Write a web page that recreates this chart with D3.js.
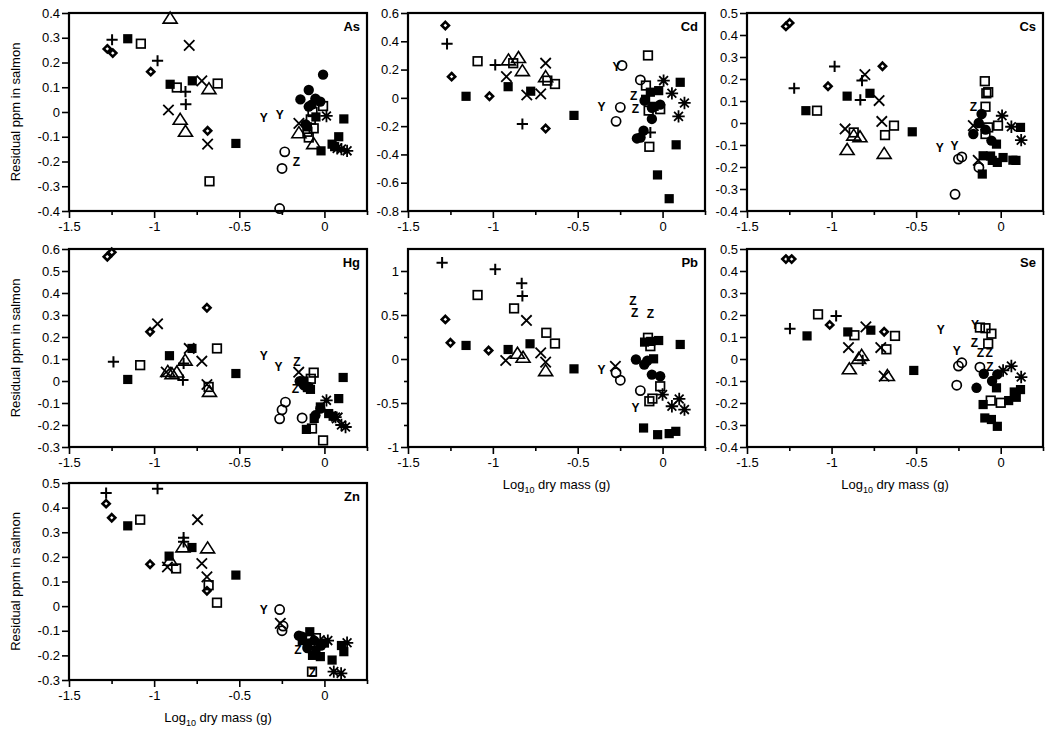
<!DOCTYPE html>
<html>
<head>
<meta charset="utf-8">
<script src="https://cdn.jsdelivr.net/npm/d3@7"></script>
<style>
html,body{margin:0;padding:0;background:#fff;}
svg{display:block;font-family:"Liberation Sans",Arial,Helvetica,sans-serif;}
</style>
</head>
<body>
<svg id="chart" width="1050" height="731"></svg>
<script>
// ---- data: [symbol, log10 dry mass, residual ppm] ----
// symbols: fs filled square, os open square, oc open circle, fc filled circle,
// di diamond, pl plus, x cross, tr triangle, as asterisk, Y, Z letters
const elements = ["As","Cd","Cs","Hg","Pb","Se","Zn"];
const xTicks = [-1.5,-1,-0.5,0];
const xMinorTicks = [-1.25,-0.75,-0.25,0.25];
const yDomains = [[-0.4,0.4],[-0.8,0.6],[-0.4,0.5],[-0.3,0.6],[-1,1.25],[-0.4,0.5],[-0.3,0.5]];
const yTicksAs = [-0.4,-0.3,-0.2,-0.1,0,0.1,0.2,0.3,0.4];
const yTicksCd = [-0.8,-0.6,-0.4,-0.2,0,0.2,0.4,0.6];
const yTicksCs = [-0.4,-0.3,-0.2,-0.1,0,0.1,0.2,0.3,0.4,0.5];
const yTicksHg = [-0.3,-0.2,-0.1,0,0.1,0.2,0.3,0.4,0.5,0.6];
const yTicksPb = [-1,-0.5,0,0.5,1];
const yMinorPb = [-0.75,-0.25,0.25,0.75];
const yTicksSe = [-0.4,-0.3,-0.2,-0.1,0,0.1,0.2,0.3,0.4,0.5];
const yTicksZn = [-0.3,-0.2,-0.1,0,0.1,0.2,0.3,0.4,0.5];

const dataAs = [
["di",-1.275,0.255],["di",-1.243,0.238],["di",-1.02,0.163],["di",-0.686,-0.076],
["pl",-1.247,0.292],["pl",-0.98,0.207],["pl",-0.816,0.082],["pl",-0.814,0.031],
["fs",-1.155,0.296],["fs",-0.906,0.112],["fs",-0.776,0.126],["fs",-0.52,-0.127],["fs",0.114,-0.028],["fs",0.084,-0.1],["fs",0.045,-0.13],["fs",-0.02,-0.157],["fs",-0.1,-0.06],["fs",-0.05,-0.02],["fs",0.06,-0.14],
["os",-1.078,0.276],["os",-0.867,0.099],["os",-0.627,0.115],["os",-0.675,-0.28],["os",-0.008,0.024],["os",-0.063,-0.066],["os",-0.092,-0.103],["os",-0.08,-0.03],["os",-0.07,0.0],["os",-0.1,-0.08],
["tr",-0.906,0.377],["tr",-0.678,0.092],["tr",-0.847,-0.032],["tr",-0.816,-0.08],["tr",-0.15,-0.086],["tr",-0.063,-0.13],
["x",-0.794,0.269],["x",-0.72,0.126],["x",-0.916,0.008],["x",-0.686,-0.13],["x",-0.15,-0.046],
["Y",-0.357,-0.022],["Y",-0.263,-0.012],
["oc",-0.233,-0.161],["oc",-0.249,-0.228],["oc",-0.263,-0.39],
["Z",-0.165,-0.201],
["fc",-0.008,0.151],["fc",-0.092,0.089],["fc",-0.141,0.051],["fc",-0.053,0.054],["fc",-0.092,0.022],["fc",-0.024,0.042],["fc",-0.11,-0.05],["fc",-0.075,0.03],
["as",0.012,-0.016],["as",0.133,-0.157],["as",0.075,-0.147],["as",0.1,-0.15]
];
const dataCd = [
["di",-1.28,0.512],["di",-1.243,0.15],["di",-1.02,0.011],["di",-0.689,-0.217],
["pl",-1.27,0.382],["pl",-0.986,0.233],["pl",-0.826,-0.185],["pl",-0.072,-0.245],
["fs",-1.158,0.011],["fs",-0.91,0.079],["fs",-0.777,0.047],["fs",-0.522,-0.124],["fs",-0.072,0.04],["fs",-0.023,0.051],["fs",0.104,0.11],["fs",0.08,-0.332],["fs",-0.03,-0.545],["fs",0.039,-0.713],["fs",-0.1,-0.01],["fs",-0.05,-0.06],
["os",-1.09,0.259],["os",-0.88,0.245],["os",-0.679,0.122],["os",-0.634,0.098],["os",-0.086,0.3],["os",-0.098,0.087],["os",-0.082,-0.09],["os",-0.078,-0.346],["os",-0.014,-0.08],
["tr",-0.908,0.264],["tr",-0.849,0.281],["tr",-0.826,0.188],["tr",-0.689,0.146],
["x",-0.689,0.245],["x",-0.92,0.15],["x",-0.8,0.02],["x",-0.718,0.028],
["Y",-0.36,-0.06],["Y",-0.272,0.217],
["oc",-0.239,0.229],["oc",-0.249,-0.067],["oc",-0.274,-0.166],["oc",-0.131,0.127],
["Z",-0.17,0.012],["Z",-0.16,-0.078],
["fc",-0.151,-0.287],["fc",-0.112,-0.232],["fc",-0.063,-0.149],["fc",-0.014,-0.048],["fc",-0.106,-0.02],["fc",-0.063,-0.07],["fc",-0.13,-0.28],
["as",0.006,0.122],["as",0.055,0.032],["as",0.129,-0.036],["as",0.094,-0.131]
];
const dataCs = [
["di",-1.27,0.439],["di",-1.248,0.455],["di",-1.021,0.167],["di",-0.699,0.258],
["pl",-1.221,0.158],["pl",-0.982,0.257],["pl",-0.82,0.193],["pl",-0.83,0.105],
["fs",-1.152,0.056],["fs",-0.908,0.122],["fs",-0.773,0.135],["fs",-0.523,-0.04],["fs",-0.104,-0.149],["fs",-0.02,-0.179],["fs",0.072,-0.169],["fs",-0.109,-0.232],["fs",-0.025,-0.096],["fs",0.117,-0.02],["fs",0.014,-0.157],["fs",-0.06,-0.15],["fs",0.09,-0.17],["fs",-0.05,-0.17],
["os",-1.086,0.056],["os",-0.869,-0.043],["os",-0.684,-0.055],["os",-0.631,-0.012],["os",-0.094,0.19],["os",-0.074,0.14],["os",-0.09,0.074],["os",-0.074,-0.02],["os",-0.016,-0.012],["os",-0.085,0.135],["os",-0.09,-0.05],
["tr",-0.908,-0.123],["tr",-0.832,-0.065],["tr",-0.689,-0.141],["tr",-0.869,-0.058],
["x",-0.803,0.22],["x",-0.719,0.102],["x",-0.92,-0.027],["x",-0.703,0.007],["x",-0.162,-0.012],["x",-0.133,-0.17],
["Y",-0.361,-0.111],["Y",-0.273,-0.103],
["oc",-0.25,-0.164],["oc",-0.23,-0.154],["oc",-0.27,-0.324],["oc",-0.129,-0.202],
["Z",-0.162,0.074],
["fc",-0.113,0.041],["fc",-0.162,-0.05],["fc",-0.055,-0.08],["fc",-0.09,-0.03],["fc",-0.13,0.0],
["as",0.008,0.033],["as",0.063,-0.017],["as",0.121,-0.078]
];
const dataHg = [
["di",-1.275,0.565],["di",-1.249,0.585],["di",-1.024,0.224],["di",-0.69,0.333],
["pl",-1.239,0.087],["pl",-0.827,0.08],["pl",-0.831,0.004],
["fs",-1.155,0.007],["fs",-0.91,0.115],["fs",-0.778,0.148],["fs",-0.52,0.034],["fs",0.11,0.016],["fs",0.084,-0.08],["fs",-0.106,-0.22],["fs",-0.082,-0.038],["fs",-0.024,-0.118],["fs",0.025,-0.148],["fs",0.051,-0.16],["fs",-0.12,0.0],["fs",-0.06,-0.17],["fs",-0.1,-0.03],
["os",-1.082,0.072],["os",-0.631,0.148],["os",-0.68,-0.027],["os",-0.063,0.038],["os",-0.008,-0.27],["os",-0.073,-0.216],["os",-0.08,0.01],
["tr",-0.92,0.041],["tr",-0.867,0.038],["tr",-0.818,0.092],["tr",-0.675,-0.05],["tr",-0.895,0.03],
["x",-0.794,0.148],["x",-0.72,0.09],["x",-0.929,0.041],["x",-0.69,-0.016],["x",-0.151,0.04],["x",0.075,-0.168],["x",-0.98,0.26],
["Y",-0.357,0.117],["Y",-0.269,0.064],
["Z",-0.161,0.087],["Z",-0.171,-0.034],
["oc",-0.229,-0.096],["oc",-0.249,-0.131],["oc",-0.263,-0.172],["oc",-0.131,-0.168],
["fc",-0.145,-0.001],["fc",-0.092,-0.027],["fc",-0.053,-0.156],["fc",-0.024,-0.125],["fc",-0.12,-0.02],
["as",0.012,-0.088],["as",0.124,-0.209],["as",0.065,-0.164],["as",0.1,-0.2]
];
const dataPb = [
["pl",-1.299,1.095],["pl",-0.986,1.019],["pl",-0.83,0.86],["pl",-0.826,0.716],
["di",-1.28,0.45],["di",-1.25,0.184],["di",-1.025,0.097],
["os",-1.09,0.727],["os",-0.875,0.575],["os",-0.685,0.298],["os",-0.634,0.176],["os",-0.086,0.241],["os",-0.072,0.146],["os",-0.078,-0.48],["os",-0.014,-0.31],["os",-0.06,-0.45],
["fs",-1.158,0.154],["fs",-0.91,0.108],["fs",-0.781,0.173],["fs",-0.522,-0.112],["fs",-0.106,0.192],["fs",-0.023,0.21],["fs",0.104,0.165],["fs",-0.053,0.002],["fs",-0.112,-0.784],["fs",-0.029,-0.86],["fs",0.039,-0.848],["fs",0.078,-0.822],["fs",-0.07,0.2],
["tr",-0.855,0.059],["tr",-0.822,0.013],["tr",-0.689,-0.139],
["x",-0.802,0.438],["x",-0.924,-0.017],["x",-0.718,0.07],["x",-0.689,-0.036],["x",-0.278,-0.082],
["Y",-0.36,-0.12],["Y",-0.16,-0.556],
["oc",-0.274,-0.157],["oc",-0.249,-0.241],["oc",-0.131,-0.359],
["Z",-0.174,0.665],["Z",-0.164,0.525],["Z",-0.072,0.514],
["fc",-0.157,-0.006],["fc",-0.108,-0.063],["fc",-0.063,-0.177],["fc",-0.014,-0.196],["fc",-0.09,-0.02],
["as",0.0,-0.404],["as",0.055,-0.537],["as",0.098,-0.454],["as",0.129,-0.575]
];
const dataSe = [
["di",-1.27,0.454],["di",-1.236,0.454],["di",-1.011,0.155],["di",-0.689,0.124],
["pl",-1.246,0.138],["pl",-0.973,0.196],["pl",-0.816,-0.006],
["fs",-1.145,0.105],["fs",-0.904,0.123],["fs",-0.768,0.131],["fs",-0.514,-0.052],["fs",-0.104,-0.207],["fs",-0.094,-0.268],["fs",-0.02,-0.306],["fs",0.047,-0.189],["fs",0.092,-0.174],["fs",0.117,-0.139],["fs",-0.025,-0.131],["fs",-0.055,-0.275],["fs",0.08,-0.15],
["os",-1.08,0.203],["os",-0.865,0.108],["os",-0.625,0.105],["os",-0.676,0.044],["os",-0.123,0.143],["os",-0.055,0.115],["os",-0.074,0.07],["os",0.0,-0.199],["os",-0.059,-0.189],["os",-0.09,0.14],
["tr",-0.895,-0.047],["tr",-0.822,0.014],["tr",-0.67,-0.078],["tr",-0.84,0.0],
["x",-0.797,0.146],["x",-0.9,0.052],["x",-0.709,0.052],["x",-0.689,-0.078],
["Y",-0.355,0.135],["Y",-0.152,0.155],["Y",-0.26,0.036],
["Z",-0.156,0.074],["Z",-0.068,0.029],["Z",-0.064,-0.037],["Z",-0.12,0.03],
["oc",-0.23,-0.017],["oc",-0.25,-0.032],["oc",-0.26,-0.119],["oc",-0.123,-0.037],
["fc",-0.1,-0.067],["fc",-0.143,-0.131],["fc",-0.051,-0.1],["fc",-0.02,-0.07],
["as",0.063,-0.032],["as",0.121,-0.082],["as",0.014,-0.052]
];
const dataZn = [
["pl",-1.282,0.459],["pl",-0.98,0.477],["pl",-0.827,0.278],["pl",-0.827,0.261],
["di",-1.282,0.416],["di",-1.249,0.359],["di",-1.024,0.17],["di",-0.69,0.062],
["fs",-1.155,0.326],["fs",-0.912,0.203],["fs",-0.778,0.238],["fs",-0.52,0.126],["fs",-0.086,-0.104],["fs",0.114,-0.185],["fs",0.045,-0.219],["fs",-0.024,-0.205],["fs",-0.1,-0.15],["fs",-0.05,-0.18],["fs",0.0,-0.15],["fs",-0.13,-0.14],["fs",0.1,-0.16],["fs",-0.07,-0.2],
["os",-1.082,0.351],["os",-0.871,0.153],["os",-0.68,0.085],["os",-0.631,0.014],["os",-0.073,-0.266],["os",-0.05,-0.13],
["tr",-0.831,0.238],["tr",-0.686,0.234],["tr",-0.906,0.184],
["x",-0.745,0.351],["x",-0.922,0.159],["x",-0.72,0.173],["x",-0.69,0.119],["x",-0.259,-0.07],["x",-0.03,-0.14],
["Y",-0.357,-0.014],
["oc",-0.263,-0.014],["oc",-0.243,-0.081],["oc",-0.249,-0.1],
["Z",-0.155,-0.178],["Z",-0.07,-0.27],
["fc",-0.131,-0.124],["fc",-0.06,-0.14],["fc",-0.1,-0.17],["fc",-0.02,-0.16],["fc",-0.15,-0.12],
["as",0.133,-0.149],["as",0.098,-0.273],["as",0.055,-0.266],["as",0.02,-0.14]
];

const panelData = [dataAs,dataCd,dataCs,dataHg,dataPb,dataSe,dataZn];
const panelYTicks = [yTicksAs,yTicksCd,yTicksCs,yTicksHg,yTicksPb,yTicksSe,yTicksZn];

// ---- layout ----
const cols = [[69,367],[408,705],[747,1043]];
const rows = [[13,211],[249,447],[483,680]];
const panelPos = [[0,0],[1,0],[2,0],[0,1],[1,1],[2,1],[0,2]];
const showXLabel = [false,false,false,false,true,true,true];

const svg = d3.select("#chart");
const fmt = v => String(Math.round(v*100)/100);

function drawSymbol(g, s, cx, cy){
  const k = "#000";
  if (s==="fs"){
    g.append("rect").attr("x",cx-4.6).attr("y",cy-4.6).attr("width",9.2).attr("height",9.2).attr("fill",k);
  } else if (s==="os"){
    g.append("rect").attr("x",cx-4.3).attr("y",cy-4.3).attr("width",8.6).attr("height",8.6).attr("fill","none").attr("stroke",k).attr("stroke-width",1.7);
  } else if (s==="oc"){
    g.append("circle").attr("cx",cx).attr("cy",cy).attr("r",4.6).attr("fill","none").attr("stroke",k).attr("stroke-width",1.7);
  } else if (s==="fc"){
    g.append("circle").attr("cx",cx).attr("cy",cy).attr("r",5.2).attr("fill",k);
  } else if (s==="di"){
    const r=3.6;
    g.append("path").attr("d",`M${cx},${cy-r}L${cx+r},${cy}L${cx},${cy+r}L${cx-r},${cy}Z`).attr("fill","#fff").attr("stroke",k).attr("stroke-width",2.6).attr("stroke-linejoin","miter");
  } else if (s==="pl"){
    const r=5.6;
    g.append("path").attr("d",`M${cx-r},${cy}H${cx+r}M${cx},${cy-r}V${cy+r}`).attr("stroke",k).attr("stroke-width",2);
  } else if (s==="x"){
    const r=5.2;
    g.append("path").attr("d",`M${cx-r},${cy-r}L${cx+r},${cy+r}M${cx-r},${cy+r}L${cx+r},${cy-r}`).attr("stroke",k).attr("stroke-width",1.8);
  } else if (s==="tr"){
    const w=7, h=11;
    g.append("path").attr("d",`M${cx},${cy-h*0.6}L${cx+w},${cy+h*0.4}L${cx-w},${cy+h*0.4}Z`).attr("fill","none").attr("stroke",k).attr("stroke-width",1.6).attr("stroke-linejoin","miter");
  } else if (s==="as"){
    const r=6.2, d=4.4;
    g.append("path").attr("d",`M${cx-r},${cy}H${cx+r}M${cx},${cy-r}V${cy+r}M${cx-d},${cy-d}L${cx+d},${cy+d}M${cx-d},${cy+d}L${cx+d},${cy-d}`).attr("stroke",k).attr("stroke-width",1.8);
  } else {
    g.append("text").attr("x",cx).attr("y",cy+4.3).attr("text-anchor","middle").attr("font-size",12).attr("font-weight","bold").attr("fill",k).text(s);
  }
}

elements.forEach((el,i)=>{
  const [ci,ri] = panelPos[i];
  const [x0,x1] = cols[ci];
  const [y0,y1] = rows[ri];
  const x = d3.scaleLinear().domain([-1.5,0.25]).range([x0,x1]);
  const y = d3.scaleLinear().domain(yDomains[i]).range([y1,y0]);
  const g = svg.append("g");

  // x axis
  g.append("g").attr("transform",`translate(0,${y1})`)
    .call(d3.axisBottom(x).tickValues(xTicks).tickFormat(fmt).tickSize(7).tickSizeOuter(0).tickPadding(4));
  g.append("g").attr("transform",`translate(0,${y1})`)
    .call(d3.axisBottom(x).tickValues(xMinorTicks).tickFormat("").tickSize(4).tickSizeOuter(0));
  // y axis
  g.append("g").attr("transform",`translate(${x0},0)`)
    .call(d3.axisLeft(y).tickValues(panelYTicks[i]).tickFormat(fmt).tickSize(7).tickSizeOuter(0).tickPadding(2));
  if (el==="Pb"){
    g.append("g").attr("transform",`translate(${x0},0)`)
      .call(d3.axisLeft(y).tickValues(yMinorPb).tickFormat("").tickSize(4).tickSizeOuter(0));
  }
  g.selectAll(".domain").remove();
  g.selectAll(".tick line").attr("stroke","#000").attr("stroke-width",1.6);
  g.selectAll(".tick text").attr("font-size",13).attr("fill","#000").attr("font-family","'Liberation Sans',Arial,sans-serif");

  // frame
  g.append("rect").attr("x",x0).attr("y",y0).attr("width",x1-x0).attr("height",y1-y0)
    .attr("fill","none").attr("stroke","#000").attr("stroke-width",2.2);

  // element label
  g.append("text").attr("x",x1-7).attr("y",y0+18).attr("text-anchor","end")
    .attr("font-size",13).attr("font-weight","bold").text(el);

  // points
  const pg = g.append("g");
  panelData[i].forEach(d=>drawSymbol(pg,d[0],x(d[1]),y(d[2])));

  // y title
  if (ci===0){
    g.append("text").attr("transform",`translate(20,${(y0+y1)/2}) rotate(-90)`)
      .attr("text-anchor","middle").attr("font-size",13).text("Residual ppm in salmon");
  }
  if (showXLabel[i]){
    const t = g.append("text").attr("x",(x0+x1)/2).attr("y",y1+42).attr("text-anchor","middle").attr("font-size",13);
    t.append("tspan").text("Log");
    t.append("tspan").attr("font-size",9).attr("dy",4).text("10");
    t.append("tspan").attr("dy",-4).text(" dry mass (g)");
  }
});
</script>
</body>
</html>
